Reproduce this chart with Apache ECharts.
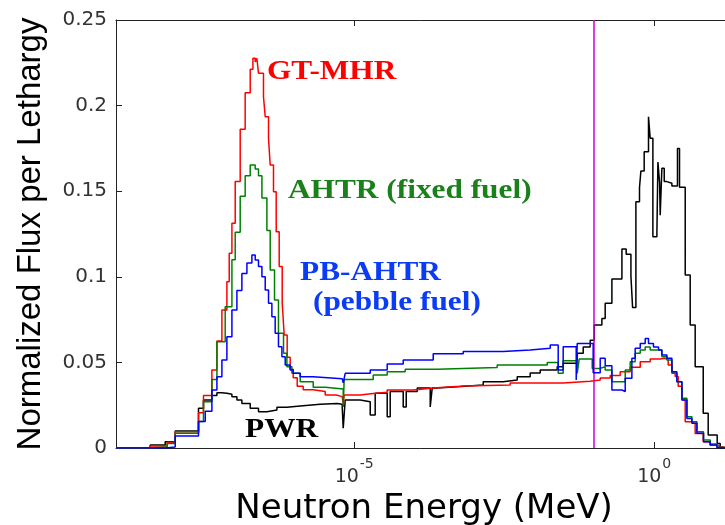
<!DOCTYPE html>
<html><head><meta charset="utf-8">
<script src="https://cdn.jsdelivr.net/npm/echarts@6/dist/echarts.min.js"></script>
<style>html,body{margin:0;padding:0;background:#fff}#c{width:725px;height:525px}</style>
</head><body><div id="c"></div>
<script>
// x values are log10(E / MeV); y values are normalized flux per lethargy
const xTickExponents = [-5, 0];
const yTickStep = 0.05;
const markerLogE = -1; // vertical magenta line at 0.1 MeV

const gtmhr = [
[-8.97,0],[-8.40,0.0012],[-8.117,0.0033],[-7.983,0.0095],[-7.595,0.0206],[-7.512,0.0306],[-7.372,0.0456],
[-7.288,0.0625],[-7.205,0.0806],[-7.122,0.0971],[-7.083,0.1137],[-7.038,0.1313],[-6.983,0.1556],[-6.900,0.1862],
[-6.817,0.2075],[-6.733,0.2212],[-6.688,0.2276],[-6.650,0.2255],[-6.622,0.2276],[-6.595,0.2189],[-6.512,0.2052],
[-6.483,0.1935],[-6.428,0.1809],[-6.400,0.1653],[-6.345,0.1497],[-6.300,0.1263],[-6.250,0.106],[-6.200,0.085],
[-6.167,0.066],[-6.117,0.053],[-6.067,0.046],[-6.017,0.041],[-5.950,0.036],[-5.850,0.034],[-5.683,0.033],
[-5.483,0.031],[-5.300,0.030],[-5.200,0.0295],[-5.183,0.026],[-5.167,0.031],[-4.900,0.0318],[-4.683,0.0326],
[-4.450,0.0339],[-4.017,0.0350],[-3.683,0.0360],[-3.233,0.0362],[-3.183,0.0368],[-2.400,0.0380],[-1.517,0.0390],
[-1.067,0.0397],[-0.900,0.0409],[-0.733,0.0423],[-0.567,0.0446],[-0.400,0.0471],[-0.233,0.0504],[-0.067,0.0520],
[0.100,0.0524],[0.183,0.0514],[0.233,0.0485],[0.300,0.0438],[0.350,0.0418],[0.400,0.036],[0.467,0.028],
[0.517,0.0154],[0.600,0.0144],[0.683,0.0085],[0.817,0.0037],[0.933,0.0018],[1.050,0.0008],[1.100,0],[1.30,0]
];

const ahtr = [
[-8.97,0],[-8.40,0.0006],[-8.117,0.0027],[-7.983,0.0086],[-7.595,0.0155],[-7.512,0.027],[-7.372,0.040],
[-7.288,0.062],[-7.150,0.0825],[-7.038,0.110],[-6.983,0.126],[-6.900,0.147],[-6.817,0.159],[-6.733,0.1653],
[-6.650,0.163],[-6.595,0.159],[-6.538,0.146],[-6.455,0.127],[-6.400,0.104],[-6.328,0.0864],[-6.262,0.067],
[-6.178,0.0553],[-6.122,0.0475],[-6.038,0.0436],[-5.900,0.0387],[-5.683,0.0355],[-5.483,0.0345],[-5.183,0.024],
[-5.167,0.040],[-4.683,0.0426],[-4.450,0.0446],[-4.150,0.046],[-3.617,0.047],[-2.617,0.0485],[-1.783,0.050],
[-1.600,0.0436],[-1.517,0.051],[-1.283,0.0436],[-1.250,0.052],[-1.033,0.0465],[-0.900,0.0475],[-0.817,0.0456],
[-0.705,0.0387],[-0.483,0.0456],[-0.400,0.0504],[-0.317,0.0553],[-0.233,0.0572],[-0.150,0.059],[-0.067,0.0572],
[0.128,0.0533],[0.212,0.0514],[0.295,0.0436],[0.378,0.0387],[0.462,0.029],[0.545,0.0183],[0.628,0.0154],
[0.712,0.0095],[0.822,0.0047],[0.933,0.0023],[1.045,0.0005],[1.100,0],[1.30,0]
];

const pbahtr = [
[-8.97,0],[-8.150,0.0006],[-7.983,0.007],[-7.595,0.0155],[-7.483,0.0215],[-7.372,0.0339],[-7.288,0.0416],
[-7.205,0.0514],[-7.122,0.065],[-7.038,0.0806],[-6.955,0.092],[-6.872,0.102],[-6.788,0.108],[-6.705,0.1127],
[-6.650,0.1098],[-6.595,0.106],[-6.538,0.100],[-6.483,0.0923],[-6.428,0.0845],[-6.372,0.0767],[-6.317,0.067],
[-6.262,0.0592],[-6.205,0.0533],[-6.150,0.0485],[-6.067,0.0456],[-6.017,0.0436],[-5.900,0.0416],[-5.683,0.0405],
[-5.200,0.040],[-5.183,0.038],[-5.150,0.0436],[-4.733,0.0456],[-4.450,0.0490],[-4.183,0.0514],[-3.683,0.0550],
[-3.183,0.0563],[-2.517,0.0572],[-2.067,0.0582],[-1.733,0.0602],[-1.600,0.0456],[-1.517,0.0592],[-1.300,0.0397],
[-1.283,0.0611],[-1.017,0.0440],[-0.900,0.0524],[-0.817,0.048],[-0.705,0.0339],[-0.538,0.033],[-0.483,0.0407],
[-0.372,0.0524],[-0.317,0.0582],[-0.233,0.0611],[-0.150,0.064],[-0.095,0.0611],[-0.012,0.059],[0.072,0.0572],
[0.128,0.0543],[0.212,0.0524],[0.295,0.0446],[0.378,0.0387],[0.462,0.028],[0.545,0.0173],[0.628,0.0144],
[0.712,0.0086],[0.822,0.0037],[0.933,0.0018],[1.045,0.0003],[1.100,0],[1.30,0]
];

const pwr = [
[-8.97,0],[-8.40,0.0018],[-8.150,0.0037],[-7.983,0.0099],[-7.595,0.0232],[-7.512,0.028],[-7.372,0.0306],
[-7.288,0.0323],[-7.205,0.0320],[-7.122,0.0314],[-7.038,0.030],[-6.955,0.028],[-6.872,0.026],[-6.733,0.0232],
[-6.595,0.0212],[-6.455,0.0222],[-6.288,0.0238],[-6.122,0.0245],[-5.900,0.0255],[-5.567,0.026],[-5.283,0.0255],
[-5.200,0.024],[-5.183,0.0115],[-5.150,0.028],[-4.900,0.0270],[-4.733,0.0193],[-4.650,0.032],[-4.450,0.0183],
[-4.400,0.033],[-4.183,0.024],[-4.133,0.033],[-3.950,0.035],[-3.733,0.024],[-3.700,0.035],[-3.617,0.0358],
[-3.283,0.0368],[-2.850,0.0387],[-2.517,0.0397],[-2.283,0.0416],[-2.067,0.0438],[-1.900,0.0456],[-1.617,0.0475],
[-1.517,0.0495],[-1.283,0.0553],[-1.183,0.059],[-1.067,0.063],[-1.000,0.0718],[-0.872,0.0757],[-0.817,0.0845],
[-0.705,0.0987],[-0.538,0.1162],[-0.467,0.1131],[-0.388,0.1005],[-0.360,0.082],[-0.305,0.1439],[-0.245,0.152],
[-0.222,0.1618],[-0.167,0.173],[-0.095,0.1935],[-0.067,0.181],[-0.022,0.1234],[0.045,0.1256],[0.062,0.167],
[0.090,0.155],[0.100,0.136],[0.128,0.1634],[0.167,0.1556],[0.212,0.1546],[0.295,0.153],[0.388,0.175],
[0.422,0.1523],[0.517,0.101],[0.600,0.0718],[0.683,0.0475],[0.817,0.0203],[0.900,0.0076],[1.050,0.0027],
[1.100,0],[1.30,0]
];

const seriesDefs = [
  {name:'PWR', data:pwr, color:'#000000'},
  {name:'GT-MHR', data:gtmhr, color:'#ff0000'},
  {name:'AHTR (fixed fuel)', data:ahtr, color:'#008000'},
  {name:'PB-AHTR (pebble fuel)', data:pbahtr, color:'#0000ff'}
];

const annotations = [
  {text:'GT-MHR', x:267, y:72, color:'#ff0000'},
  {text:'AHTR (fixed fuel)', x:288, y:191, color:'#1a801a'},
  {text:'PB-AHTR', x:300, y:273, color:'#0a3cf5'},
  {text:'(pebble fuel)', x:313, y:303, color:'#0a3cf5'},
  {text:'PWR', x:245, y:430, color:'#000000'}
];

const chart = echarts.init(document.getElementById('c'), null, {renderer:'canvas'});
const axisColor = '#222';
const fontFam = '"Liberation Sans", Arial, sans-serif';
const tickFont = '"DejaVu Sans", sans-serif';

const series = seriesDefs.map((s, i) => ({
  type:'line', name:s.name, data:s.data, step:'end', symbol:'none', silent:true,
  lineStyle:{color:s.color, width:1.5}, z: 2 + i,
  markLine: i === 0 ? {
    silent:true, symbol:['none','none'], label:{show:false},
    lineStyle:{color:'#cc00cc', width:1.5, type:'solid'},
    data:[{xAxis: markerLogE}]
  } : undefined
}));

chart.setOption({
  animation:false,
  backgroundColor:'#fff',
  grid:{left:116, top:20, width:616.2, bottom:77, containLabel:false, outerBoundsMode:'none'},
  xAxis:[{
    type:'value', min:-8.97, max:1.3, position:'bottom',
    axisLine:{show:true, onZero:false, lineStyle:{color:axisColor, width:1}},
    axisTick:{show:true, inside:true, length:6, customValues:xTickExponents, lineStyle:{color:axisColor}},
    axisLabel:{show:true, customValues:xTickExponents, margin:9,
      formatter: v => '{b|10}{s|' + v + '}',
      rich:{
        b:{fontSize:19, color:'#333', fontFamily:tickFont, verticalAlign:'bottom', lineHeight:30},
        s:{fontSize:14, color:'#333', fontFamily:tickFont, verticalAlign:'top', lineHeight:30, padding:[0,0,0,1]}
      }},
    splitLine:{show:false},
    name:'Neutron Energy (MeV)', nameLocation:'middle', nameGap:20,
    nameTextStyle:{fontSize:34, color:'#000', fontFamily:tickFont}
  },{
    type:'value', min:-8.97, max:1.3, position:'top',
    axisLine:{show:true, onZero:false, lineStyle:{color:axisColor, width:1}},
    axisTick:{show:true, inside:true, length:6, customValues:xTickExponents, lineStyle:{color:axisColor}},
    axisLabel:{show:false}, splitLine:{show:false}
  }],
  yAxis:[{
    type:'value', min:0, max:0.25, interval:yTickStep, position:'left',
    axisLine:{show:true, onZero:false, lineStyle:{color:axisColor, width:1}},
    axisTick:{show:true, inside:true, length:6, lineStyle:{color:axisColor}},
    axisLabel:{fontSize:20, color:'#333', fontFamily:tickFont, margin:9},
    splitLine:{show:false},
    name:'Normalized Flux per Lethargy', nameLocation:'middle', nameGap:69, nameRotate:90,
    nameTextStyle:{fontSize:33, color:'#000', fontFamily:fontFam}
  },{
    type:'value', min:0, max:0.25, interval:yTickStep, position:'right',
    axisLine:{show:true, onZero:false, lineStyle:{color:axisColor, width:1}},
    axisTick:{show:true, inside:true, length:6, lineStyle:{color:axisColor}},
    axisLabel:{show:false}, splitLine:{show:false}
  }],
  series: series,
  graphic: annotations.map(a => ({
    type:'text', x:a.x, y:a.y, scaleX:1.16, silent:true, z:100,
    style:{text:a.text, fill:a.color, font:'bold 27px "Liberation Serif", "Times New Roman", serif', verticalAlign:'middle', align:'left'}
  }))
});
</script></body></html>
